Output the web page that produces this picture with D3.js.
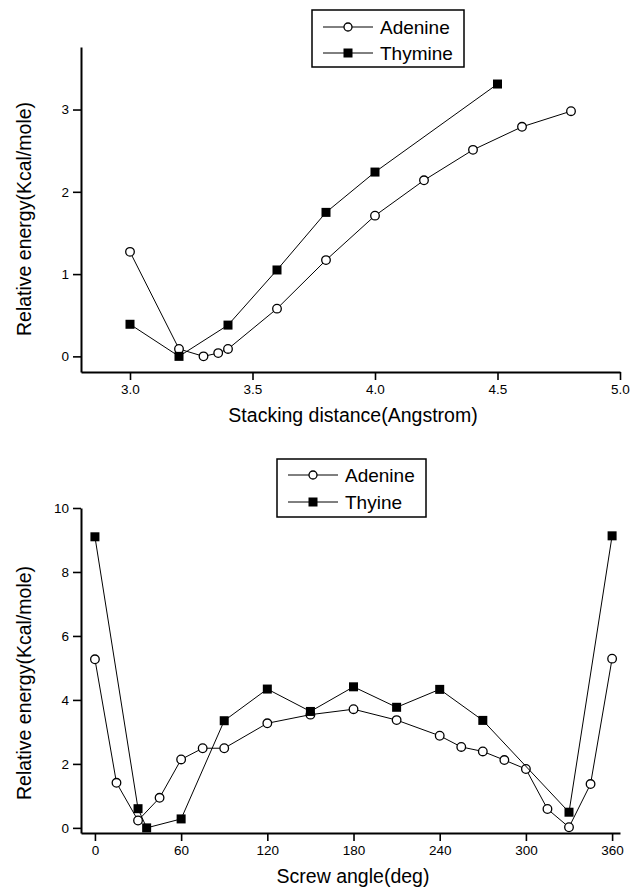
<!DOCTYPE html>
<html>
<head>
<meta charset="utf-8">
<script src="https://cdn.jsdelivr.net/npm/d3@7"></script>
<style>
  body { margin: 0; background: #fff; }
  text { font-family: "Liberation Sans", Arial, sans-serif; fill: #000; }
</style>
</head>
<body>
<svg id="chart" width="632" height="890"></svg>
<script>
// top panel: stacking distance
const distAdenine = [3.0, 3.2, 3.3, 3.36, 3.4, 3.6, 3.8, 4.0, 4.2, 4.4, 4.6, 4.8];
const energyAdenine = [1.27, 0.09, 0.0, 0.04, 0.09, 0.58, 1.17, 1.71, 2.14, 2.51, 2.79, 2.98];
const distThymine = [3.0, 3.2, 3.4, 3.6, 3.8, 4.0, 4.5];
const energyThymine = [0.39, 0.0, 0.38, 1.05, 1.75, 2.24, 3.31];
const distTicks = [3.0, 3.5, 4.0, 4.5, 5.0];
const energyTicksTop = [0, 1, 2, 3];

// bottom panel: screw angle
const angleAdenine = [0, 15, 30, 45, 60, 75, 90, 120, 150, 180, 210, 240, 255, 270, 285, 300, 315, 330, 345, 360];
const screwAdenine = [5.27, 1.41, 0.23, 0.94, 2.14, 2.49, 2.49, 3.27, 3.54, 3.71, 3.37, 2.88, 2.53, 2.39, 2.12, 1.84, 0.59, 0.02, 1.37, 5.29];
const angleThyine = [0, 30, 36, 60, 90, 120, 150, 180, 210, 240, 270, 330, 360];
const screwThyine = [9.1, 0.6, 0.0, 0.28, 3.35, 4.34, 3.64, 4.41, 3.77, 4.33, 3.36, 0.49, 9.13];
const angleTicks = [0, 60, 120, 180, 240, 300, 360];
const energyTicksBottom = [0, 2, 4, 6, 8, 10];

const svg = d3.select("#chart");

function drawPanel(cfg) {
    const g = svg.append("g");
    const x = d3.scaleLinear().domain(cfg.xDomain).range([81, 620]);
    const y = d3.scaleLinear().domain(cfg.yDomain).range(cfg.yRange);

    const xAxis = g.append("g")
        .attr("transform", `translate(0,${cfg.yRange[0]})`)
        .call(d3.axisBottom(x).tickValues(cfg.xTicks).tickFormat(cfg.xFormat)
            .tickSizeInner(8).tickSizeOuter(0).tickPadding(4));
    const yAxis = g.append("g")
        .attr("transform", "translate(81,0)")
        .call(d3.axisLeft(y).tickValues(cfg.yTicks).tickFormat(d3.format("d"))
            .tickSizeInner(8).tickSizeOuter(0).tickPadding(4));

    [xAxis, yAxis].forEach(a => {
        a.select(".domain").attr("stroke", "#000").attr("stroke-width", 2);
        a.selectAll(".tick line").attr("stroke", "#000").attr("stroke-width", 1.6);
        a.selectAll(".tick text")
            .style("font-family", "'Liberation Sans', Arial, sans-serif")
            .style("font-size", "13.5px").attr("fill", "#000");
    });

    // axis titles
    g.append("text")
        .attr("x", 353).attr("y", cfg.xTitleY)
        .attr("text-anchor", "middle")
        .style("font-size", "19.5px")
        .text(cfg.xTitle);
    g.append("text")
        .attr("transform", `translate(31,${cfg.yTitleMid}) rotate(-90)`)
        .attr("text-anchor", "middle")
        .style("font-size", "19.5px")
        .text("Relative energy(Kcal/mole)");

    const line = d3.line().x(d => x(d[0])).y(d => y(d[1]));

    cfg.series.forEach(s => {
        const pts = s.xs.map((v, i) => [v, s.ys[i]]);
        g.append("path")
            .datum(pts)
            .attr("d", line)
            .attr("fill", "none")
            .attr("stroke", "#000")
            .attr("stroke-width", 1);
        if (s.marker === "circle") {
            g.selectAll(null).data(pts).enter().append("circle")
                .attr("cx", d => x(d[0])).attr("cy", d => y(d[1]))
                .attr("r", 4.3)
                .attr("fill", "#fff").attr("stroke", "#000").attr("stroke-width", 1.3);
        } else {
            g.selectAll(null).data(pts).enter().append("rect")
                .attr("x", d => x(d[0]) - 4.5).attr("y", d => y(d[1]) - 4.5)
                .attr("width", 9).attr("height", 9)
                .attr("fill", "#000");
        }
    });

    // legend
    const lg = cfg.legend;
    g.append("rect")
        .attr("x", lg.x).attr("y", lg.y)
        .attr("width", lg.w).attr("height", lg.h)
        .attr("fill", "#fff").attr("stroke", "#000").attr("stroke-width", 1.5);
    cfg.series.forEach((s, i) => {
        const ry = lg.rowY[i];
        g.append("line")
            .attr("x1", lg.lineX0).attr("x2", lg.lineX1)
            .attr("y1", ry).attr("y2", ry)
            .attr("stroke", "#000").attr("stroke-width", 1);
        const mx = (lg.lineX0 + lg.lineX1) / 2;
        if (s.marker === "circle") {
            g.append("circle").attr("cx", mx).attr("cy", ry).attr("r", 4)
                .attr("fill", "#fff").attr("stroke", "#000").attr("stroke-width", 1.3);
        } else {
            g.append("rect").attr("x", mx - 4.5).attr("y", ry - 4.5)
                .attr("width", 9).attr("height", 9).attr("fill", "#000");
        }
        g.append("text")
            .attr("x", lg.textX).attr("y", ry + 6.5)
            .style("font-size", "19px")
            .text(s.name);
    });
}

drawPanel({
    xDomain: [2.8, 5.0], yDomain: [-0.19, 3.76], yRange: [372, 47],
    xTicks: distTicks, yTicks: energyTicksTop, xFormat: d3.format(".1f"),
    xTitle: "Stacking distance(Angstrom)", xTitleY: 422, yTitleMid: 219,
    series: [
        { name: "Adenine", xs: distAdenine, ys: energyAdenine, marker: "circle" },
        { name: "Thymine", xs: distThymine, ys: energyThymine, marker: "square" }
    ],
    legend: { x: 312, y: 10, w: 152, h: 57, rowY: [27, 53], lineX0: 323, lineX1: 373, textX: 380 }
});

drawPanel({
    xDomain: [-9.7, 365.5], yDomain: [-0.16, 10], yRange: [833, 508],
    xTicks: angleTicks, yTicks: energyTicksBottom, xFormat: d3.format("d"),
    xTitle: "Screw angle(deg)", xTitleY: 883, yTitleMid: 683,
    series: [
        { name: "Adenine", xs: angleAdenine, ys: screwAdenine, marker: "circle" },
        { name: "Thyine", xs: angleThyine, ys: screwThyine, marker: "square" }
    ],
    legend: { x: 277, y: 459, w: 149, h: 58, rowY: [475, 502], lineX0: 288, lineX1: 338, textX: 345 }
});
</script>
</body>
</html>
